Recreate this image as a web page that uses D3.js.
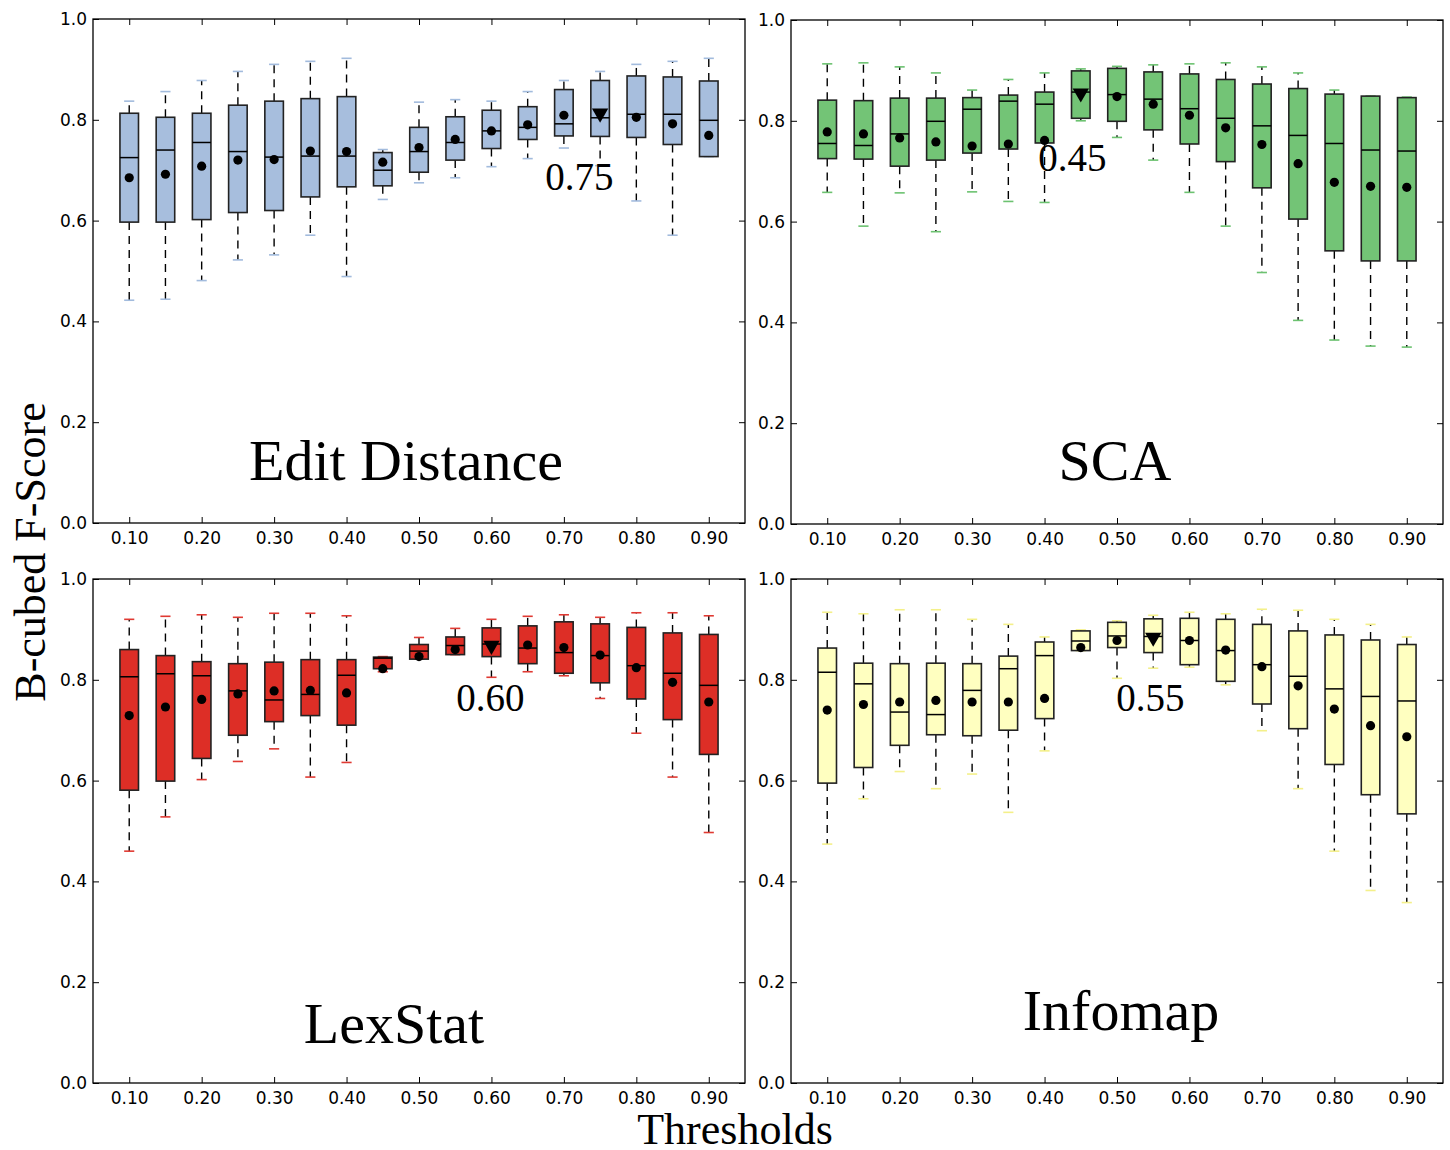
<html>
  <head>
    <title>B-cubed F-Score by threshold</title>
    <script src="https://cdn.jsdelivr.net/npm/d3@7/dist/d3.min.js" charset="utf-8"></script>
    <style>
      body { margin: 0; background: #fff; }
      .tick text { font-family: "DejaVu Sans", sans-serif; font-size: 17px; fill: #000; }
      .serif { font-family: "Liberation Serif", "Times New Roman", serif; fill: #000; }
    </style>
  </head>
  <body>
    <div id="main"></div>
  <script>
    // thresholds shared by all four panels
    var thresholds = [0.10, 0.15, 0.20, 0.25, 0.30, 0.35, 0.40, 0.45, 0.50,
                      0.55, 0.60, 0.65, 0.70, 0.75, 0.80, 0.85, 0.90];
    var tickLabels = ['0.10', '0.20', '0.30', '0.40', '0.50', '0.60', '0.70', '0.80', '0.90'];
    var yTicks = [0.0, 0.2, 0.4, 0.6, 0.8, 1.0];

    // Edit Distance
    var editHigh   = [0.837, 0.856, 0.878, 0.896, 0.910, 0.916, 0.922, 0.741, 0.835, 0.840, 0.837, 0.856, 0.878, 0.896, 0.910, 0.916, 0.922];
    var editQ3     = [0.813, 0.805, 0.813, 0.829, 0.837, 0.842, 0.846, 0.735, 0.785, 0.806, 0.819, 0.826, 0.860, 0.878, 0.887, 0.885, 0.877];
    var editMedian = [0.725, 0.740, 0.755, 0.737, 0.726, 0.728, 0.728, 0.700, 0.737, 0.755, 0.778, 0.785, 0.792, 0.804, 0.811, 0.811, 0.799];
    var editMean   = [0.685, 0.692, 0.708, 0.720, 0.721, 0.738, 0.737, 0.716, 0.745, 0.761, 0.778, 0.790, 0.809, 0.813, 0.805, 0.792, 0.769];
    var editQ1     = [0.597, 0.597, 0.602, 0.616, 0.620, 0.647, 0.667, 0.669, 0.696, 0.720, 0.743, 0.761, 0.768, 0.767, 0.765, 0.751, 0.727];
    var editLow    = [0.442, 0.444, 0.481, 0.522, 0.532, 0.571, 0.489, 0.642, 0.675, 0.685, 0.707, 0.723, 0.744, 0.709, 0.639, 0.571, 0.727];

    // SCA
    var scaHigh   = [0.913, 0.915, 0.907, 0.895, 0.861, 0.882, 0.895, 0.903, 0.908, 0.911, 0.913, 0.915, 0.907, 0.895, 0.861, 0.849, 0.847];
    var scaQ3     = [0.841, 0.840, 0.845, 0.845, 0.846, 0.851, 0.857, 0.899, 0.904, 0.897, 0.893, 0.882, 0.873, 0.864, 0.853, 0.849, 0.846];
    var scaMedian = [0.755, 0.751, 0.774, 0.799, 0.823, 0.839, 0.833, 0.857, 0.852, 0.843, 0.824, 0.805, 0.790, 0.771, 0.755, 0.742, 0.740];
    var scaMean   = [0.778, 0.774, 0.766, 0.758, 0.750, 0.754, 0.761, 0.855, 0.848, 0.833, 0.811, 0.786, 0.753, 0.715, 0.678, 0.670, 0.668];
    var scaQ1     = [0.725, 0.724, 0.710, 0.722, 0.736, 0.744, 0.756, 0.805, 0.799, 0.782, 0.754, 0.719, 0.667, 0.605, 0.542, 0.522, 0.522];
    var scaLow    = [0.658, 0.591, 0.657, 0.580, 0.659, 0.640, 0.638, 0.800, 0.767, 0.722, 0.658, 0.591, 0.499, 0.404, 0.365, 0.353, 0.351];

    // LexStat
    var lexHigh   = [0.920, 0.926, 0.929, 0.924, 0.932, 0.932, 0.927, 0.846, 0.884, 0.902, 0.920, 0.926, 0.929, 0.924, 0.933, 0.933, 0.927];
    var lexQ3     = [0.860, 0.848, 0.836, 0.832, 0.835, 0.840, 0.840, 0.845, 0.870, 0.885, 0.903, 0.907, 0.915, 0.911, 0.904, 0.893, 0.890];
    var lexMedian = [0.806, 0.812, 0.808, 0.778, 0.760, 0.771, 0.809, 0.843, 0.857, 0.868, 0.871, 0.863, 0.854, 0.848, 0.828, 0.813, 0.789];
    var lexMean   = [0.729, 0.746, 0.761, 0.772, 0.778, 0.779, 0.774, 0.822, 0.846, 0.860, 0.868, 0.869, 0.864, 0.849, 0.824, 0.795, 0.756];
    var lexQ1     = [0.581, 0.599, 0.644, 0.690, 0.717, 0.729, 0.710, 0.822, 0.841, 0.850, 0.846, 0.832, 0.813, 0.794, 0.762, 0.721, 0.652];
    var lexLow    = [0.460, 0.528, 0.602, 0.638, 0.663, 0.607, 0.636, 0.816, 0.841, 0.850, 0.805, 0.816, 0.808, 0.763, 0.694, 0.607, 0.497];

    // Infomap
    var infoHigh   = [0.934, 0.931, 0.939, 0.939, 0.920, 0.910, 0.885, 0.899, 0.917, 0.928, 0.934, 0.931, 0.940, 0.938, 0.920, 0.910, 0.885];
    var infoQ3     = [0.863, 0.833, 0.832, 0.833, 0.832, 0.847, 0.875, 0.897, 0.914, 0.921, 0.922, 0.920, 0.910, 0.897, 0.889, 0.879, 0.870];
    var infoMedian = [0.815, 0.792, 0.736, 0.731, 0.779, 0.822, 0.848, 0.877, 0.887, 0.886, 0.878, 0.858, 0.830, 0.807, 0.782, 0.767, 0.758];
    var infoMean   = [0.740, 0.751, 0.756, 0.759, 0.756, 0.756, 0.763, 0.864, 0.878, 0.884, 0.878, 0.859, 0.826, 0.788, 0.742, 0.709, 0.687];
    var infoQ1     = [0.595, 0.626, 0.670, 0.691, 0.689, 0.700, 0.723, 0.858, 0.864, 0.854, 0.830, 0.797, 0.752, 0.703, 0.632, 0.572, 0.534];
    var infoLow    = [0.474, 0.564, 0.618, 0.584, 0.613, 0.537, 0.659, 0.858, 0.803, 0.823, 0.825, 0.790, 0.699, 0.584, 0.460, 0.382, 0.358];

    // best threshold per method (drawn with a triangle instead of a dot)
    var methods = ['Edit Distance', 'SCA', 'LexStat', 'Infomap'];
    var bestThreshold = [0.75, 0.45, 0.60, 0.55];

    var svgWidth = 1450;
    var svgHeight = 1150;
    var panelW = 652;
    var panelH = 504;

    var panels = [
      { name: methods[0], low: editLow, q1: editQ1, median: editMedian, q3: editQ3, high: editHigh, mean: editMean,
        best: bestThreshold[0], fill: '#a7bedd', cap: '#a2bbdd', left: 93, top: 19,
        titleX: 406, titleY: 480, noteX: 0.7215, noteY: 0.661 },
      { name: methods[1], low: scaLow, q1: scaQ1, median: scaMedian, q3: scaQ3, high: scaHigh, mean: scaMean,
        best: bestThreshold[1], fill: '#73c476', cap: '#6cc270', left: 791, top: 20,
        titleX: 1115, titleY: 480, noteX: 0.4384, noteY: 0.700 },
      { name: methods[2], low: lexLow, q1: lexQ1, median: lexMedian, q3: lexQ3, high: lexHigh, mean: lexMean,
        best: bestThreshold[2], fill: '#dd2e26', cap: '#e03a33', left: 93, top: 579,
        titleX: 394, titleY: 1043, noteX: 0.5986, noteY: 0.738 },
      { name: methods[3], low: infoLow, q1: infoQ1, median: infoMedian, q3: infoQ3, high: infoHigh, mean: infoMean,
        best: bestThreshold[3], fill: '#ffffc0', cap: '#f4f08a', left: 791, top: 579,
        titleX: 1121, titleY: 1030, noteX: 0.546, noteY: 0.738 }
    ];

    var svg = d3.select('#main')
      .append('svg')
      .attr('width', svgWidth)
      .attr('height', svgHeight);

    var boxHalf = 0.0128;  // half box width, in threshold units
    var capHalf = 0.007;

    panels.forEach(function(p) {
      var x = d3.scaleLinear().domain([0.05, 0.95]).range([p.left, p.left + panelW]);
      var y = d3.scaleLinear().domain([0, 1]).range([p.top + panelH, p.top]);

      var rows = thresholds.map(function(t, i) {
        return { t: t, low: p.low[i], q1: p.q1[i], median: p.median[i], q3: p.q3[i], high: p.high[i], mean: p.mean[i] };
      });

      var g = svg.append('g');

      // axes: ticks point inward on all four sides
      g.append('g')
        .attr('transform', 'translate(0,' + (p.top + panelH) + ')')
        .call(d3.axisBottom(x).tickValues(thresholds.filter(function(t, i) { return i % 2 === 0; }))
          .tickFormat(function(d, i) { return tickLabels[i]; }).tickSize(-6).tickPadding(9));
      g.append('g')
        .attr('transform', 'translate(0,' + p.top + ')')
        .call(d3.axisTop(x).tickValues(thresholds.filter(function(t, i) { return i % 2 === 0; }))
          .tickFormat('').tickSize(-6));
      g.append('g')
        .attr('transform', 'translate(' + p.left + ',0)')
        .call(d3.axisLeft(y).tickValues(yTicks).tickFormat(d3.format('.1f')).tickSize(-6).tickPadding(6));
      g.append('g')
        .attr('transform', 'translate(' + (p.left + panelW) + ',0)')
        .call(d3.axisRight(y).tickValues(yTicks).tickFormat('').tickSize(-6));
      g.selectAll('.domain').remove();
      g.selectAll('.tick line').attr('stroke', '#000').attr('stroke-width', 1);

      g.append('rect')
        .attr('x', p.left).attr('y', p.top)
        .attr('width', panelW).attr('height', panelH)
        .attr('fill', 'none').attr('stroke', '#000').attr('stroke-width', 1.3);

      var box = g.selectAll('g.box').data(rows).enter().append('g').attr('class', 'box');

      // dashed whiskers, drawn from the box outward
      box.append('line')
        .attr('x1', function(d) { return x(d.t); }).attr('x2', function(d) { return x(d.t); })
        .attr('y1', function(d) { return y(d.q3); }).attr('y2', function(d) { return y(d.high); })
        .attr('stroke', '#000').attr('stroke-width', 1.4).attr('stroke-dasharray', '8,6');
      box.append('line')
        .attr('x1', function(d) { return x(d.t); }).attr('x2', function(d) { return x(d.t); })
        .attr('y1', function(d) { return y(d.q1); }).attr('y2', function(d) { return y(d.low); })
        .attr('stroke', '#000').attr('stroke-width', 1.4).attr('stroke-dasharray', '8,6');

      // caps
      ['high', 'low'].forEach(function(k) {
        box.append('line')
          .attr('x1', function(d) { return x(d.t - capHalf); }).attr('x2', function(d) { return x(d.t + capHalf); })
          .attr('y1', function(d) { return y(d[k]); }).attr('y2', function(d) { return y(d[k]); })
          .attr('stroke', p.cap).attr('stroke-width', 1.6);
      });

      box.append('rect')
        .attr('x', function(d) { return x(d.t - boxHalf); })
        .attr('y', function(d) { return y(d.q3); })
        .attr('width', function(d) { return x(d.t + boxHalf) - x(d.t - boxHalf); })
        .attr('height', function(d) { return y(d.q1) - y(d.q3); })
        .attr('fill', p.fill).attr('stroke', '#222').attr('stroke-width', 1.6);

      box.append('line')
        .attr('x1', function(d) { return x(d.t - boxHalf); }).attr('x2', function(d) { return x(d.t + boxHalf); })
        .attr('y1', function(d) { return y(d.median); }).attr('y2', function(d) { return y(d.median); })
        .attr('stroke', '#000').attr('stroke-width', 1.5);

      // mean: dot, or downward triangle at the best threshold
      box.filter(function(d) { return Math.abs(d.t - p.best) > 1e-9; })
        .append('circle')
        .attr('cx', function(d) { return x(d.t); }).attr('cy', function(d) { return y(d.mean); })
        .attr('r', 4.6).attr('fill', '#000');
      box.filter(function(d) { return Math.abs(d.t - p.best) < 1e-9; })
        .append('path')
        .attr('d', d3.symbol(d3.symbolTriangle, 115))
        .attr('transform', function(d) { return 'translate(' + x(d.t) + ',' + y(d.mean) + ') rotate(180)'; })
        .attr('fill', '#000');

      g.append('text').attr('class', 'serif')
        .attr('x', p.titleX).attr('y', p.titleY)
        .attr('text-anchor', 'middle').style('font-size', '58px')
        .text(p.name);

      g.append('text').attr('class', 'serif')
        .attr('x', x(p.noteX)).attr('y', y(p.noteY))
        .attr('text-anchor', 'middle').style('font-size', '39px')
        .text(d3.format('.2f')(p.best));
    });

    svg.append('text').attr('class', 'serif')
      .attr('transform', 'translate(45,552) rotate(-90)')
      .attr('text-anchor', 'middle').style('font-size', '44px')
      .text('B-cubed F-Score');

    svg.append('text').attr('class', 'serif')
      .attr('x', 735).attr('y', 1144)
      .attr('text-anchor', 'middle').style('font-size', '44px')
      .text('Thresholds');
  </script>
  </body>
</html>
